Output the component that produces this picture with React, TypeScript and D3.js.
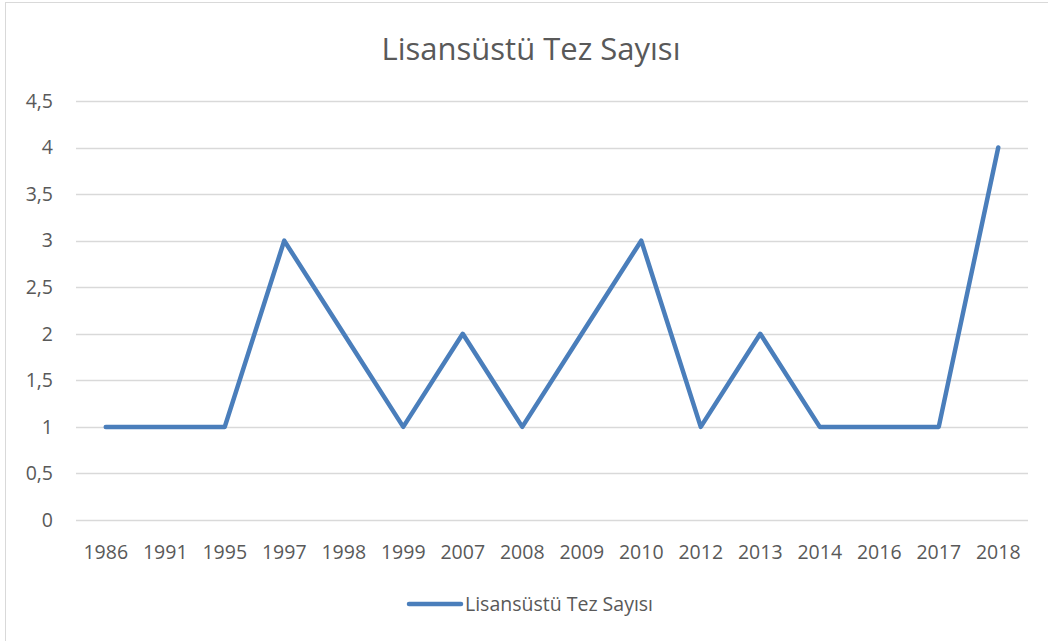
import { useEffect, useRef } from "react";
import * as d3 from "d3";

const years = ["1986", "1991", "1995", "1997", "1998", "1999", "2007", "2008", "2009", "2010", "2012", "2013", "2014", "2016", "2017", "2018"];
const counts = [1, 1, 1, 3, 2, 1, 2, 1, 2, 3, 1, 2, 1, 1, 1, 4];
const yTicks = [0, 0.5, 1, 1.5, 2, 2.5, 3, 3.5, 4, 4.5];
const title = "Lisansüstü Tez Sayısı";
const seriesName = "Lisansüstü Tez Sayısı";

const W = 1048;
const H = 641;
const lineColor = "#4a7ebb";
const textColor = "#595959";
const font = "'Open Sans', 'Noto Sans', sans-serif";

export default function App() {
  const ref = useRef<SVGSVGElement>(null);

  useEffect(() => {
    document.body.style.margin = "0";
    if (!ref.current) return;
    const svg = d3.select(ref.current);
    svg.selectAll("*").remove();

    // chart frame
    svg.append("rect")
      .attr("x", 5.5).attr("y", 2.5)
      .attr("width", W + 10).attr("height", H + 10)
      .attr("fill", "#fff")
      .attr("stroke", "#d9d9d9");

    const left = 76, right = 1028, top = 101, bottom = 520;
    const x = d3.scaleBand().domain(years).range([left, right]);
    const y = d3.scaleLinear().domain([0, 4.5]).range([bottom, top]);

    svg.append("text")
      .attr("x", 531).attr("y", 49)
      .attr("text-anchor", "middle")
      .attr("dy", "0.35em")
      .style("font-family", font)
      .style("font-size", "31px")
      .style("fill", textColor)
      .text(title);

    // grid
    svg.append("g").selectAll("line")
      .data(yTicks)
      .enter().append("line")
      .attr("x1", left).attr("x2", right)
      .attr("y1", d => Math.round(y(d)) + 0.5)
      .attr("y2", d => Math.round(y(d)) + 0.5)
      .attr("stroke", "#d9d9d9")
      .attr("stroke-width", 1.3);

    const fmt = (d: number) => String(d).replace(".", ",");
    svg.append("g").selectAll("text")
      .data(yTicks)
      .enter().append("text")
      .attr("x", 53).attr("y", d => y(d))
      .attr("dy", "0.35em")
      .attr("text-anchor", "end")
      .style("font-family", font)
      .style("font-size", "19.5px")
      .style("fill", textColor)
      .text(fmt);

    svg.append("g").selectAll("text")
      .data(years)
      .enter().append("text")
      .attr("x", d => x(d)! + x.bandwidth() / 2)
      .attr("y", 552)
      .attr("dy", "0.35em")
      .attr("text-anchor", "middle")
      .style("font-family", font)
      .style("font-size", "19.5px")
      .style("fill", textColor)
      .text(d => d);

    const line = d3.line<number>()
      .x((d, i) => x(years[i])! + x.bandwidth() / 2)
      .y(d => y(d));

    svg.append("path")
      .datum(counts)
      .attr("d", line)
      .attr("fill", "none")
      .attr("stroke", lineColor)
      .attr("stroke-width", 4.5)
      .attr("stroke-linejoin", "round")
      .attr("stroke-linecap", "round");

    // legend
    svg.append("line")
      .attr("x1", 409).attr("x2", 461)
      .attr("y1", 604).attr("y2", 604)
      .attr("stroke", lineColor)
      .attr("stroke-width", 4.5)
      .attr("stroke-linecap", "round");
    svg.append("text")
      .attr("x", 465).attr("y", 604)
      .attr("dy", "0.35em")
      .style("font-family", font)
      .style("font-size", "19.5px")
      .style("fill", textColor)
      .text(seriesName);
  }, []);

  return <svg ref={ref} width={W} height={H} style={{ display: "block" }} />;
}
